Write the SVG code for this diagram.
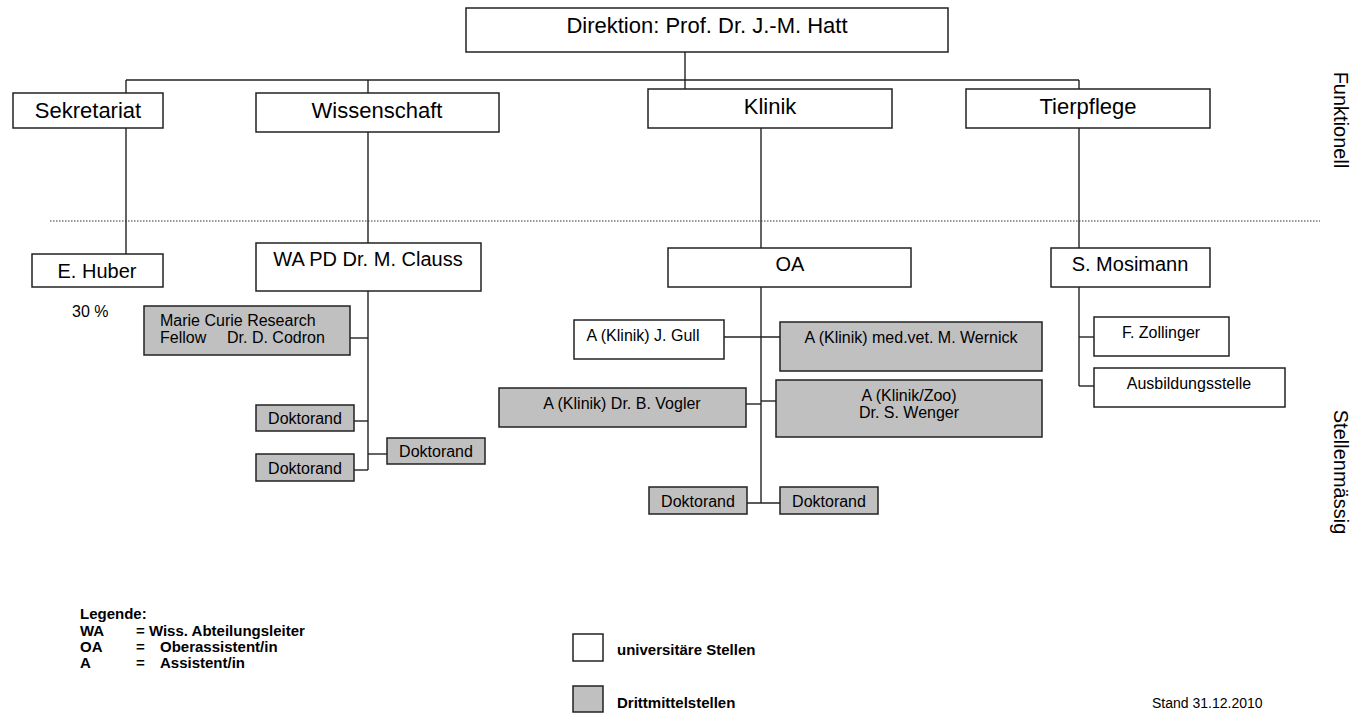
<svg xmlns="http://www.w3.org/2000/svg" width="1364" height="715" viewBox="0 0 1364 715">
<style>
  text { font-family: "Liberation Sans", Arial, sans-serif; fill: #000; }
  .box { fill: #fff; stroke: #222; stroke-width: 1.5; }
  .gray { fill: #c0c0c0; stroke: #222; stroke-width: 1.5; }
  .l1 { font-size: 22px; text-anchor: middle; }
  .l2 { font-size: 20px; text-anchor: middle; }
  .s { font-size: 16px; text-anchor: middle; }
  .side { font-size: 20px; text-anchor: middle; }
  .leg { font-size: 15px; font-weight: bold; }
  .conn line { stroke: #222; stroke-width: 1.4; }
</style>
<rect width="1364" height="715" fill="#fff"/>

<g id="connectors" class="conn">
  <line x1="685" y1="52" x2="685" y2="89"/>
  <line x1="126" y1="80" x2="1079" y2="80"/>
  <line x1="126" y1="80" x2="126" y2="93"/>
  <line x1="368" y1="80" x2="368" y2="93"/>
  <line x1="1079" y1="80" x2="1079" y2="89"/>
  <line x1="126" y1="128" x2="126" y2="254"/>
  <line x1="368" y1="132" x2="368" y2="243"/>
  <line x1="761" y1="128" x2="761" y2="248"/>
  <line x1="1079" y1="128" x2="1079" y2="248"/>
  <line x1="368" y1="291" x2="368" y2="470"/>
  <line x1="350" y1="338" x2="368" y2="338"/>
  <line x1="354" y1="421" x2="368" y2="421"/>
  <line x1="354" y1="470" x2="368" y2="470"/>
  <line x1="368" y1="454" x2="387" y2="454"/>
  <line x1="761" y1="287" x2="761" y2="503"/>
  <line x1="724" y1="337" x2="780" y2="337"/>
  <line x1="746" y1="404" x2="761" y2="404"/>
  <line x1="761" y1="401" x2="776" y2="401"/>
  <line x1="747" y1="503" x2="780" y2="503"/>
  <line x1="1079" y1="287" x2="1079" y2="386"/>
  <line x1="1079" y1="337" x2="1094" y2="337"/>
  <line x1="1079" y1="386" x2="1094" y2="386"/>
</g>

<line id="divider" x1="50" y1="221" x2="1320" y2="221" stroke="#333" stroke-width="1" stroke-dasharray="1.5 1.5"/>

<g id="direktion"><rect class="box" x="466" y="8" width="482" height="44"/><text class="l1" x="707" y="33">Direktion: Prof. Dr. J.-M. Hatt</text></g>
<g id="sekretariat"><rect class="box" x="13" y="93" width="150" height="35"/><text class="l1" x="88" y="118">Sekretariat</text></g>
<g id="wissenschaft"><rect class="box" x="256" y="93" width="243" height="39"/><text class="l1" x="377" y="118">Wissenschaft</text></g>
<g id="klinik"><rect class="box" x="648" y="89" width="244" height="39"/><text class="l1" x="770" y="114">Klinik</text></g>
<g id="tierpflege"><rect class="box" x="966" y="89" width="244" height="39"/><text class="l1" x="1088" y="114">Tierpflege</text></g>

<text class="side" transform="translate(1341,120) rotate(90)" dominant-baseline="central">Funktionell</text>
<text class="side" transform="translate(1341,472) rotate(90)" dominant-baseline="central">Stellenmässig</text>

<g id="huber"><rect class="box" x="32" y="254" width="131" height="33"/><text class="l2" x="97" y="278">E. Huber</text></g>
<text x="72" y="317" font-size="16">30 %</text>
<g id="clauss"><rect class="box" x="256" y="243" width="225" height="48"/><text class="l2" x="368" y="266">WA PD Dr. M. Clauss</text></g>
<g id="codron"><rect class="gray" x="144" y="306" width="206" height="49"/><text font-size="16" x="160" y="326">Marie Curie Research</text><text font-size="16" y="343"><tspan x="160">Fellow</tspan><tspan x="227">Dr. D. Codron</tspan></text></g>
<g id="dok1"><rect class="gray" x="256" y="405" width="98" height="26"/><text class="s" x="305" y="424">Doktorand</text></g>
<g id="dok2"><rect class="gray" x="256" y="454" width="98" height="27"/><text class="s" x="305" y="474">Doktorand</text></g>
<g id="dok3"><rect class="gray" x="387" y="438" width="98" height="26"/><text class="s" x="436" y="457">Doktorand</text></g>

<g id="oa"><rect class="box" x="668" y="248" width="243" height="39"/><text class="l2" x="790" y="271">OA</text></g>
<g id="gull"><rect class="box" x="574" y="320" width="150" height="39"/><text class="s" x="643" y="341">A (Klinik) J. Gull</text></g>
<g id="wernick"><rect class="gray" x="780" y="322" width="262" height="49"/><text class="s" x="911" y="343">A (Klinik) med.vet. M. Wernick</text></g>
<g id="vogler"><rect class="gray" x="499" y="388" width="247" height="39"/><text class="s" x="622" y="409">A (Klinik) Dr. B. Vogler</text></g>
<g id="wenger"><rect class="gray" x="776" y="380" width="266" height="57"/><text class="s" x="909" y="401">A (Klinik/Zoo)</text><text class="s" x="909" y="418">Dr. S. Wenger</text></g>
<g id="dok4"><rect class="gray" x="649" y="487" width="98" height="27"/><text class="s" x="698" y="507">Doktorand</text></g>
<g id="dok5"><rect class="gray" x="780" y="487" width="98" height="27"/><text class="s" x="829" y="507">Doktorand</text></g>

<g id="mosimann"><rect class="box" x="1051" y="248" width="159" height="39"/><text class="l2" x="1130" y="271">S. Mosimann</text></g>
<g id="zollinger"><rect class="box" x="1094" y="317" width="135" height="39"/><text class="s" x="1161" y="338">F. Zollinger</text></g>
<g id="ausbildung"><rect class="box" x="1094" y="368" width="191" height="39"/><text class="s" x="1189" y="389">Ausbildungsstelle</text></g>

<g id="legende">
  <text class="leg" x="80" y="619">Legende:</text>
  <text class="leg" x="80" y="636">WA</text><text class="leg" x="136" y="636">= Wiss. Abteilungsleiter</text>
  <text class="leg" x="80" y="652">OA</text><text class="leg" x="136" y="652">=</text><text class="leg" x="160" y="652">Oberassistent/in</text>
  <text class="leg" x="80" y="668">A</text><text class="leg" x="136" y="668">=</text><text class="leg" x="160" y="668">Assistent/in</text>
</g>
<g id="key-uni"><rect class="box" x="573" y="634" width="30" height="27"/><text class="leg" x="617" y="655">universitäre Stellen</text></g>
<g id="key-dritt"><rect class="gray" x="573" y="686" width="30" height="26"/><text class="leg" x="617" y="708">Drittmittelstellen</text></g>
<text x="1152" y="708" font-size="14">Stand 31.12.2010</text>
</svg>
